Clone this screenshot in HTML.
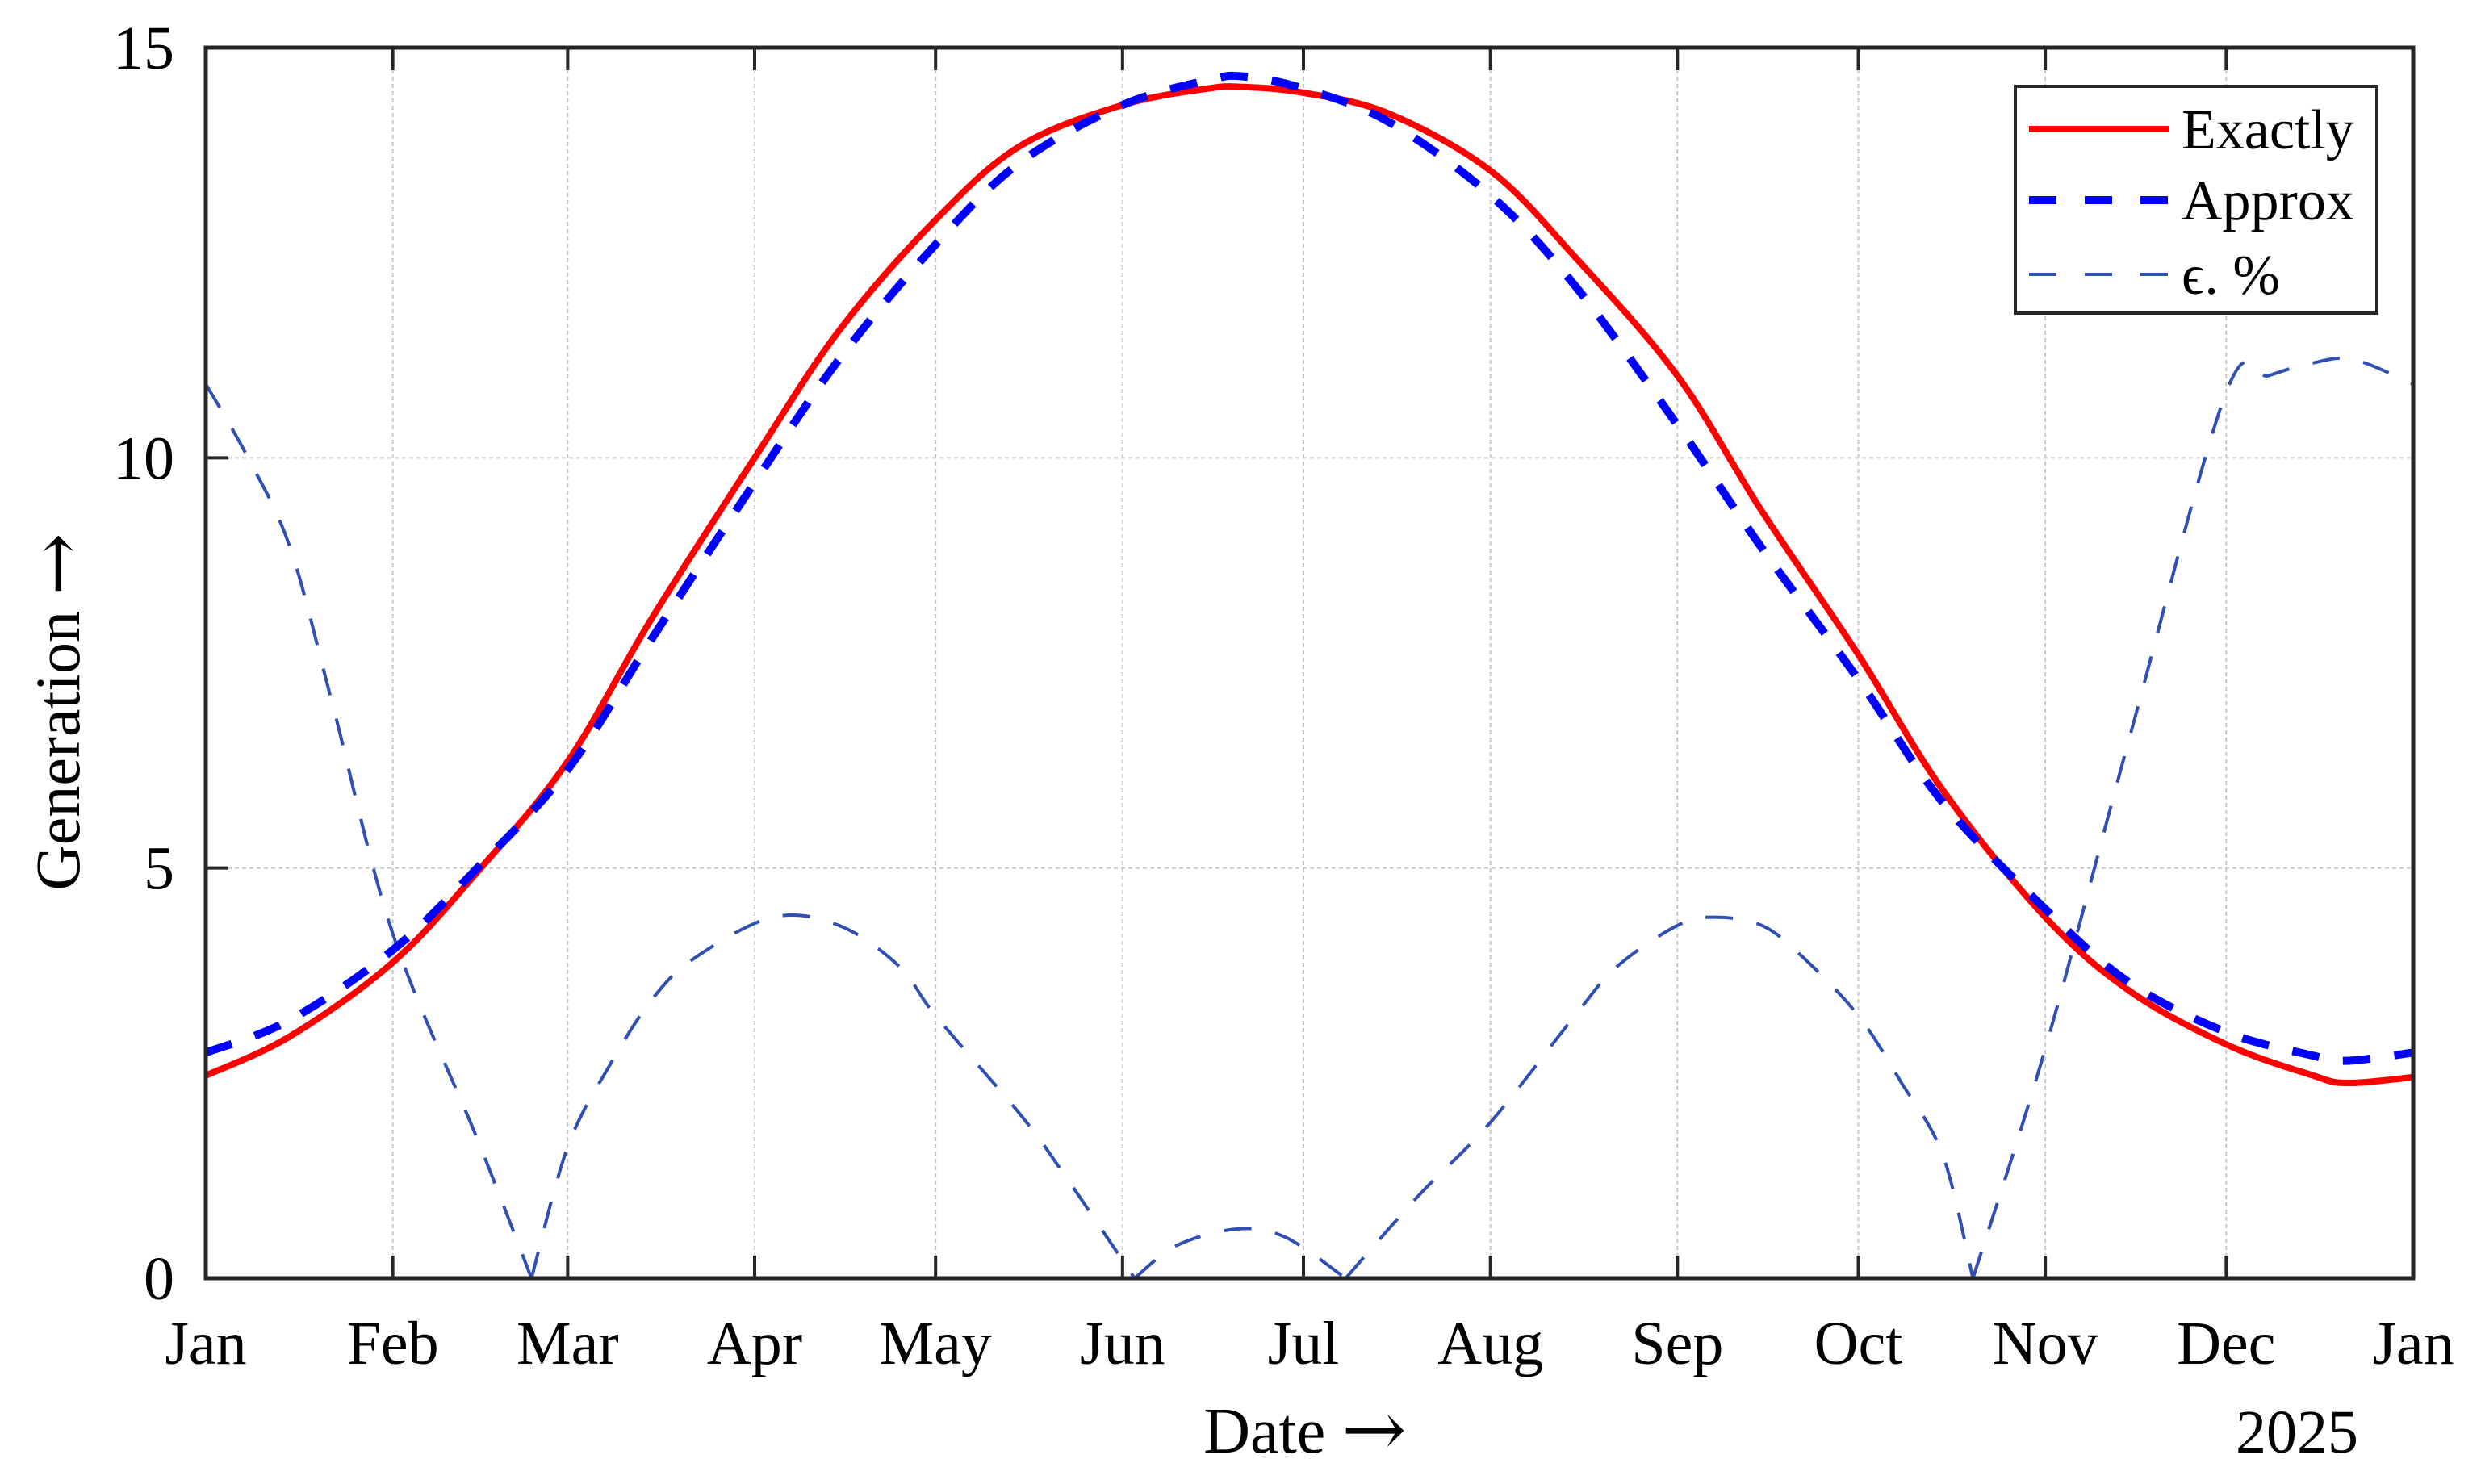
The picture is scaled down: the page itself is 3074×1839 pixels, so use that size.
<!DOCTYPE html>
<html><head><meta charset="utf-8"><style>
html,body{margin:0;padding:0;background:#fff}
svg{display:block}
text{font-family:"Liberation Serif",serif;fill:#000}
</style></head><body>
<svg id="chart" width="3074" height="1839" viewBox="0 0 3074 1839" xmlns="http://www.w3.org/2000/svg">
<g id="grid"></g>
<g id="series"></g>
<rect x="255" y="59" width="2735" height="1525" fill="none" stroke="#262626" stroke-width="5"/>
<g id="ticks"></g>
<text x="1617" y="1800" font-size="80" text-anchor="middle">Date <tspan font-size="96" font-family="DejaVu Serif" dy="4">→</tspan></text>
<text x="2846" y="1800" font-size="76" text-anchor="middle">2025</text>
<text transform="translate(98,882) rotate(-90)" font-size="78" text-anchor="middle">Generation <tspan font-size="92" font-family="DejaVu Serif" dy="4">→</tspan></text>
<g>
<rect x="2497" y="107" width="448" height="281" fill="#fff" stroke="#262626" stroke-width="4"/>
<line x1="2514" y1="160" x2="2688" y2="160" stroke="#ff0000" stroke-width="8"/>
<text x="2703" y="184" font-size="70">Exactly</text>
<line x1="2514" y1="248" x2="2688" y2="248" stroke="#0000ff" stroke-width="10" stroke-dasharray="34,35"/>
<text x="2703" y="272" font-size="70">Approx</text>
<line x1="2514" y1="340" x2="2688" y2="340" stroke="#2f4fb5" stroke-width="4" stroke-dasharray="34,35"/>
<text x="2703" y="364" font-size="70">ϵ. %</text>
</g>
</svg>
<script>
const monthTicks=["2024-01-01","2024-02-01","2024-03-01","2024-04-01","2024-05-01","2024-06-01","2024-07-01","2024-08-01","2024-09-01","2024-10-01","2024-11-01","2024-12-01","2025-01-01"];
const monthLabels=["Jan","Feb","Mar","Apr","May","Jun","Jul","Aug","Sep","Oct","Nov","Dec","Jan"];
const yTicks=[0,5,10,15];
const curveDates=["2024-01-01","2024-01-15","2024-02-01","2024-02-15","2024-03-01","2024-03-15","2024-04-01","2024-04-15","2024-05-01","2024-05-15","2024-06-01","2024-06-15","2024-06-21","2024-07-01","2024-07-15","2024-08-01","2024-08-15","2024-09-01","2024-09-15","2024-10-01","2024-10-15","2024-11-01","2024-11-15","2024-12-01","2024-12-15","2024-12-21","2025-01-01"];
const exactly=[2.47,2.95,3.85,4.95,6.3,8.05,10.0,11.55,12.9,13.8,14.3,14.5,14.52,14.45,14.2,13.5,12.45,11.0,9.35,7.6,5.95,4.4,3.5,2.85,2.48,2.38,2.45];
const approx=[2.75,3.15,4.0,5.0,6.2,7.8,9.7,11.2,12.6,13.6,14.3,14.6,14.65,14.5,14.1,13.2,12.1,10.4,8.9,7.3,5.8,4.5,3.6,3.0,2.72,2.65,2.75];
const errDates=["2024-01-01","2024-01-08","2024-01-15","2024-01-22","2024-02-01","2024-02-15","2024-02-24","2024-03-01","2024-03-08","2024-03-15","2024-03-22","2024-04-04","2024-04-15","2024-04-25","2024-05-01","2024-05-15","2024-05-22","2024-06-03","2024-06-10","2024-06-20","2024-06-28","2024-07-08","2024-07-20","2024-08-01","2024-08-15","2024-08-22","2024-09-01","2024-09-07","2024-09-15","2024-09-22","2024-10-01","2024-10-08","2024-10-15","2024-10-20","2024-11-01","2024-11-15","2024-12-01","2024-12-08","2024-12-15","2024-12-22","2025-01-01"];
const errPct=[10.9,10.0,8.9,7.0,4.2,1.7,0,1.6,2.6,3.4,3.9,4.4,4.3,3.8,3.2,2.0,1.3,0,0.4,0.6,0.5,0,1.0,1.9,3.2,3.8,4.3,4.4,4.3,3.9,3.2,2.4,1.5,0,2.8,6.6,10.8,11.0,11.15,11.2,10.9];

const L=255,R=2990,T=59,B=1584;
const t0=Date.UTC(2024,0,1),t1=Date.UTC(2025,0,1);
function day(s){const p=s.split('-').map(Number);return Date.UTC(p[0],p[1]-1,p[2]);}
function xs(s){return L+(day(s)-t0)/(t1-t0)*(R-L);}
function ys(v){return B-v/15*(B-T);}
const NS="http://www.w3.org/2000/svg";
function mk(tag,parent,attrs){const e=document.createElementNS(NS,tag);for(const k in attrs)e.setAttribute(k,attrs[k]);parent.appendChild(e);return e;}
const grid=document.getElementById('grid'),ticks=document.getElementById('ticks'),series=document.getElementById('series');
monthTicks.forEach((d,i)=>{
  const x=xs(d);
  if(i>0&&i<monthTicks.length-1){
    const g=mk('line',grid,{x1:x,y1:T,x2:x,y2:B,stroke:'#c8c8c8','stroke-width':2,'stroke-dasharray':'5,4'});
    
    
    const t1=mk('line',ticks,{x1:x,y1:B,x2:x,y2:B-28,stroke:'#262626','stroke-width':4});
    
    
    const t2=mk('line',ticks,{x1:x,y1:T,x2:x,y2:T+28,stroke:'#262626','stroke-width':4});
    
    
  }
  const lb=mk('text',ticks,{x:x,y:1690,'font-size':76,'text-anchor':'middle'});
  lb.textContent=monthLabels[i];
  
  
});
yTicks.forEach(v=>{
  const y=ys(v);
  if(v>0&&v<15){
    const g=mk('line',grid,{x1:L,y1:y,x2:R,y2:y,stroke:'#c8c8c8','stroke-width':2,'stroke-dasharray':'5,4'});
    
    
    const t=mk('line',ticks,{x1:L,y1:y,x2:L+28,y2:y,stroke:'#262626','stroke-width':4});
    
    
  }
  const lb=mk('text',ticks,{x:216,y:y+26,'font-size':76,'text-anchor':'end'});
  lb.textContent=v;
  
  
});
function smooth(pts){
  let d='M'+pts[0][0]+','+pts[0][1];
  for(let i=0;i<pts.length-1;i++){
    const p0=pts[Math.max(i-1,0)],p1=pts[i],p2=pts[i+1],p3=pts[Math.min(i+2,pts.length-1)];
    const c1=[p1[0]+(p2[0]-p0[0])/6,p1[1]+(p2[1]-p0[1])/6];
    const c2=[p2[0]-(p3[0]-p1[0])/6,p2[1]-(p3[1]-p1[1])/6];
    d+=' C'+c1[0]+','+c1[1]+' '+c2[0]+','+c2[1]+' '+p2[0]+','+p2[1];
  }
  return d;
}
const errPts=errDates.map((d,i)=>[xs(d),ys(errPct[i])]);
let segs=[],cur=[];
errPts.forEach((p,i)=>{cur.push(p);if(errPct[i]===0&&cur.length>1){segs.push(cur);cur=[p];}});
if(cur.length>1)segs.push(cur);
const ep=mk('path',series,{d:segs.map(smooth).join(' '),fill:'none',stroke:'#2f4fb5','stroke-width':4,'stroke-dasharray':'34,30'});


const ex=mk('path',series,{d:smooth(curveDates.map((d,i)=>[xs(d),ys(exactly[i])])),fill:'none',stroke:'#ff0000','stroke-width':8});


const ap=mk('path',series,{d:smooth(curveDates.map((d,i)=>[xs(d),ys(approx[i])])),fill:'none',stroke:'#0000ff','stroke-width':10,'stroke-dasharray':'34,30'});


</script>
</body></html>
